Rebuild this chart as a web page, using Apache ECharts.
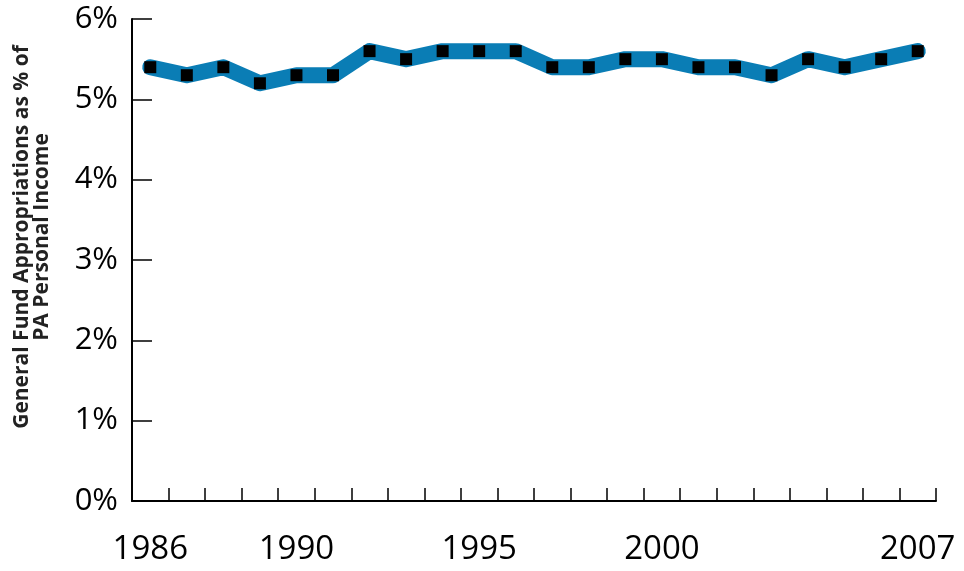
<!DOCTYPE html>
<html>
<head>
<meta charset="utf-8">
<script src="https://cdn.jsdelivr.net/npm/echarts@6/dist/echarts.min.js"></script>
<style>
html,body{margin:0;padding:0;background:#fff;}
#chart{width:964px;height:571px;}
</style>
</head>
<body>
<div id="chart"></div>
<script>
const years = ['1986','1987','1988','1989','1990','1991','1992','1993','1994','1995','1996','1997','1998','1999','2000','2001','2002','2003','2004','2005','2006','2007'];
const values = [5.4,5.3,5.4,5.2,5.3,5.3,5.6,5.5,5.6,5.6,5.6,5.4,5.4,5.5,5.5,5.4,5.4,5.3,5.5,5.4,5.5,5.6];
const shownYears = ['1986','1990','1995','2000','2007'];
const yTicks = [0,1,2,3,4,5,6];
const yTitle = 'General Fund Appropriations as % of\nPA Personal Income';

const chart = echarts.init(document.getElementById('chart'));
chart.setOption({
  animation:false,
  grid:{left:132,right:28,top:19,bottom:70},
  xAxis:{
    type:'category',
    data:years,
    boundaryGap:true,
    axisLine:{lineStyle:{color:'#000',width:2}},
    axisTick:{show:true,inside:true,length:13,interval:0,lineStyle:{color:'#000',width:1.5}},
    axisLabel:{
      interval:function(i,v){return shownYears.indexOf(v)>=0;},
      color:'#000',fontFamily:'Open Sans',fontSize:33,margin:32
    },
    splitLine:{show:false}
  },
  yAxis:{
    type:'value',
    min:yTicks[0],max:yTicks[yTicks.length-1],interval:1,
    axisLine:{show:true,lineStyle:{color:'#000',width:2}},
    axisTick:{show:true,inside:true,length:20,lineStyle:{color:'#000',width:1.5}},
    axisLabel:{formatter:'{value}%',color:'#000',fontFamily:'Open Sans',fontSize:31,margin:14},
    splitLine:{show:false}
  },
  graphic:[{
    type:'text',
    rotation:Math.PI/2,
    position:[32,237],
    style:{
      text:yTitle,
      fill:'#222',
      font:'bold 21px "Open Sans"',
      textAlign:'center',
      textVerticalAlign:'middle',
      lineHeight:20
    }
  }],
  series:[{
    type:'line',
    data:values,
    lineStyle:{color:'#0a7db5',width:16,cap:'round',join:'round'},
    itemStyle:{color:'#000'},
    symbol:'rect',
    symbolSize:12,
    showSymbol:true
  }]
});
</script>
</body>
</html>
